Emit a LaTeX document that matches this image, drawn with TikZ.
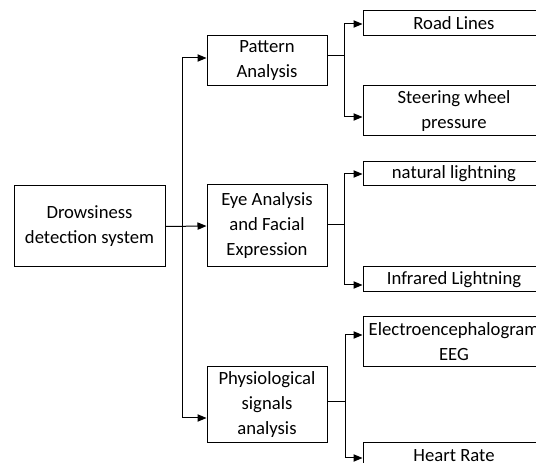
\documentclass[tikz,border=0pt]{standalone}
\usepackage{fontspec}
\setmainfont{Carlito}
\usetikzlibrary{arrows.meta}
\tikzset{
  box/.style={draw, line width=0.75pt, inner sep=0pt, align=center,
    font=\fontsize{14}{18.75}\selectfont},
  link/.style={line width=0.75pt},
  arr/.style={line width=0.75pt, -{Triangle[length=6.75pt,width=5.5pt]}}
}
\begin{document}
\begin{tikzpicture}[x=0.75pt,y=-0.75pt]
\useasboundingbox (0,0) rectangle (536,463);
\clip (0,0) rectangle (536,463);

% root and first level
\node[box, minimum width=113.25pt, minimum height=60.75pt] (root) at (89.5,226.5) {Drowsiness\\detection system};
\node[box, minimum width=90pt, minimum height=37.5pt] (pat) at (267,61) {Pattern\\Analysis};
\node[box, minimum width=90pt, minimum height=61.5pt] (eye) at (267,226) {Eye Analysis\\and Facial\\Expression};
\node[box, minimum width=90pt, minimum height=57pt] (phy) at (267,405) {Physiological\\signals\\analysis};

% second level
\node[box, minimum width=136.5pt, minimum height=18.75pt] (road) at (454,23.5) {Road Lines};
\node[box, minimum width=136.5pt, minimum height=37.5pt] (steer) at (454,111) {Steering wheel\\pressure};
\node[box, minimum width=136.5pt, minimum height=18pt] (nat) at (454,174) {natural lightning};
\node[box, minimum width=136.5pt, minimum height=18.75pt] (infra) at (454,279.5) {Infrared Lightning};
\node[box, minimum width=136.5pt, minimum height=37.5pt] (eeg) at (454,342) {Electroencephalogram\\EEG};
\node[box, minimum width=136.5pt, minimum height=18.75pt] (heart) at (454,455.5) {Heart Rate};

% junction points
\coordinate (a1) at (182,58);
\coordinate (a2) at (182,418);
\coordinate (b0) at (344,56);
\coordinate (b1) at (344,24);
\coordinate (b2) at (344,117);
\coordinate (c0) at (344,225);
\coordinate (c1) at (344,174);
\coordinate (c2) at (344,285);
\coordinate (d0) at (345,402);
\coordinate (d1) at (345,335);
\coordinate (d2) at (345,458);

% root to first level
\draw[arr] (root.east) -- (eye.west);
\draw[link] (a1) -- (a2);
\draw[arr] (a1) -- (a1 -| pat.west);
\draw[arr] (a2) -- (a2 -| phy.west);

% pattern branch
\draw[link] (b0 -| pat.east) -- (b0);
\draw[link] (b1) -- (b2);
\draw[arr] (b1) -- (b1 -| road.west);
\draw[arr] (b2) -- (b2 -| steer.west);

% eye branch
\draw[link] (c0 -| eye.east) -- (c0);
\draw[link] (c1) -- (c2);
\draw[arr] (c1) -- (c1 -| nat.west);
\draw[arr] (c2) -- (c2 -| infra.west);

% physiological branch
\draw[link] (d0 -| phy.east) -- (d0);
\draw[link] (d1) -- (d2);
\draw[arr] (d1) -- (d1 -| eeg.west);
\draw[arr] (d2) -- (d2 -| heart.west);
\end{tikzpicture}
\end{document}
